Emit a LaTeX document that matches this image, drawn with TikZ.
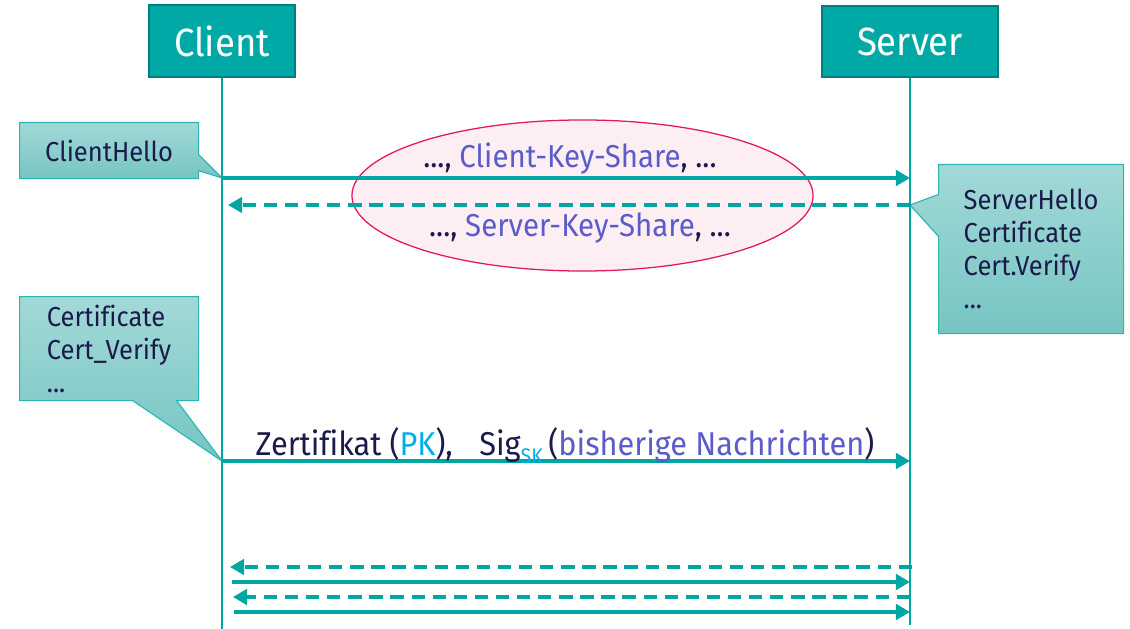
\documentclass[tikz,border=0pt]{standalone}
\usepackage{fontspec}
\setmainfont[FakeStretch=0.93,Ligatures=NoCommon]{Fira Sans}
\usetikzlibrary{shapes,arrows,arrows.meta,positioning}

\definecolor{boxfill}{HTML}{00A9A5}
\definecolor{boxline}{HTML}{00807C}
\definecolor{msgcol}{HTML}{00A6A1}
\definecolor{notetop}{HTML}{A2D9D7}
\definecolor{notebot}{HTML}{76C5C2}
\definecolor{noteline}{HTML}{2CB5B0}
\definecolor{ovalfill}{HTML}{FDEEF4}
\definecolor{ovalline}{HTML}{E2185C}
\definecolor{navy}{HTML}{1C1A4A}
\definecolor{keycol}{HTML}{5A5CC9}
\definecolor{pkcol}{HTML}{00AEEF}

\begin{document}
\begin{tikzpicture}[x=0.025cm,y=-0.025cm,>={Triangle[length=10pt,width=11pt]},color=navy]

    % Define node styles
    \tikzstyle{actor} = [draw=boxline, line width=1.4pt, fill=boxfill, rectangle, minimum width=3.65cm, minimum height=1.8cm, inner sep=0pt, text=white, font=\fontsize{28}{33}\selectfont]
    \tikzstyle{note} = [rectangle callout, draw=noteline, line width=0.8pt, top color=notetop, bottom color=notebot, anchor=north west, align=left, inner sep=0pt, font=\fontsize{19.5}{23.5}\selectfont]
    \tikzstyle{oval} = [ellipse, draw=ovalline, line width=0.9pt, fill=ovalfill, minimum width=11.525cm, minimum height=3.775cm]
    \tikzstyle{life} = [draw=msgcol, line width=0.9pt]
    \tikzstyle{msg} = [draw=msgcol, line width=2.4pt]
    \tikzstyle{reply} = [msg, dash pattern=on 9.5pt off 5.5pt]
    \tikzstyle{label} = [font=\fontsize{22.5}{26}\selectfont, inner sep=0pt]

    \useasboundingbox (0,0) rectangle (1130,629);

    % Draw nodes
    \node [actor] (client) at (222,41) {Client};
    \node [actor, minimum width=4.4cm, minimum height=1.775cm] (server) at (910,41.5) {Server};

    \coordinate (clientEnd) at (222,629);
    \coordinate (serverEnd) at (910,625);

    \coordinate (c1) at (222,178);
    \coordinate (s1) at (910,178);
    \coordinate (s2) at (910,205);
    \coordinate (c2) at (228,205);
    \coordinate (c3) at (222,461);
    \coordinate (s3) at (910,461);
    \coordinate (s4) at (912,567);
    \coordinate (c4) at (230,567);
    \coordinate (c5) at (232,582);
    \coordinate (s5) at (910,582);
    \coordinate (s6) at (910,597);
    \coordinate (c6) at (233,597);
    \coordinate (c7) at (234,612);
    \coordinate (s7) at (910,612);

    \node [oval] (keyshare) at (582.5,195.5) {};

    \node [note, minimum width=4.475cm, minimum height=1.4cm, callout absolute pointer={(c1)}, callout pointer width=0.4cm] (hello) at (19,122) {ClientHello};
    \node [note, minimum width=4.625cm, minimum height=4.225cm, callout absolute pointer={(s2)}, callout pointer width=1.05cm] (serverMsgs) at (938,164) {ServerHello\\Certificate\\Cert.Verify\\...};
    \node [note, minimum width=4.475cm, minimum height=2.6cm, callout absolute pointer={(c3)}, callout pointer width=1.1cm] (clientMsgs) at (19,296) {Certificate\\Cert\_Verify\\...};

    % Draw lifelines
    \draw [life] (client) -- (clientEnd);
    \draw [life] (server) -- (serverEnd);

    % Draw arrows
    \draw [msg, ->] (c1) -- (s1);
    \draw [reply, ->] (s2) -- (c2);
    \draw [msg, ->] (c3) -- (s3);
    \draw [reply, ->] (s4) -- (c4);
    \draw [msg, ->] (c5) -- (s5);
    \draw [reply, ->] (s6) -- (c6);
    \draw [msg, ->] (c7) -- (s7);

    % Draw labels
    \node [label] (clientShare) at (570,159) {..., \textcolor{keycol}{Client-Key-Share}, ...};
    \node [label] (serverShare) at (580,228) {..., \textcolor{keycol}{Server-Key-Share}, ...};
    \node [label, font=\fontsize{23.5}{27}\selectfont, anchor=base] (cert) at (565,455) {Zertifikat (\textcolor{pkcol}{PK}),\hspace{0.8em}Sig\raisebox{-6pt}{\fontsize{15}{15}\selectfont\textcolor{pkcol}{SK}}\,(\textcolor{keycol}{bisherige Nachrichten})};

\end{tikzpicture}
\end{document}
